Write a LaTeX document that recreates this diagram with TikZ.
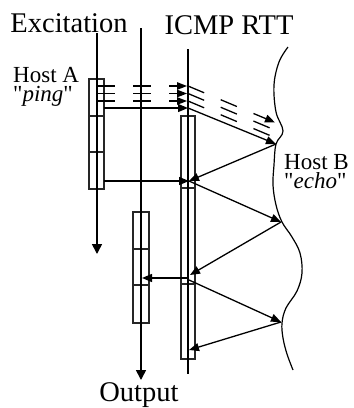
\documentclass[tikz,border=0pt]{standalone}
\usepackage{fontspec}
\setmainfont{Liberation Serif}
\usetikzlibrary{arrows.meta}
\begin{document}
\begin{tikzpicture}[x=1pt,y=-1pt,
  big/.style={font=\fontsize{28.5}{30}\selectfont, inner sep=0pt, anchor=base},
  lab/.style={font=\fontsize{23}{19}\selectfont, inner sep=0pt, anchor=north west, align=left},
  axis/.style={line width=1.6pt},
  axisarrow/.style={axis, -{Triangle[length=10pt,width=10pt]}},
  box/.style={draw=black!85, line width=1.1pt, inner sep=0pt, outer sep=0pt},
  divline/.style={draw=black!85, line width=1.1pt},
  msg/.style={line width=1.3pt, -{Triangle[length=10pt,width=8pt]}},
  probe/.style={line width=1.3pt, dash pattern=on 18pt off 18pt},
  probeout/.style={line width=1.3pt, dash pattern=on 17.5pt off 18pt},
  host/.style={line width=1.2pt}
]
\useasboundingbox (0,0) rectangle (354,408);

% labels
\node[big] (exc) at (69,32) {Excitation};
\node[big] (icmp) at (229,34) {ICMP RTT};
\node[big] (out) at (139,401) {Output};
\node[lab] (hostA) at (13,67.5) {Host A\\\textquotedbl\textit{ping}\textquotedbl};
\node[lab] (hostB) at (284,154.5) {Host B\\\textquotedbl\textit{echo}\textquotedbl};

% boxes
\node[box, minimum width=15pt, minimum height=110pt] (exbox) at (96.5,134) {};
\node[box, minimum width=14pt, minimum height=243pt] (icbox) at (188,237.5) {};
\node[box, minimum width=16pt, minimum height=111pt] (outbox) at (141,267.5) {};
\draw[divline] (89,116) -- (104,116);
\draw[divline] (89,152) -- (104,152);
\draw[divline] (181,188) -- (195,188);
\draw[divline] (181,284) -- (195,284);
\draw[divline] (133,249) -- (149,249);
\draw[divline] (133,285) -- (149,285);

% time lines
\coordinate (exTop) at (97,33);
\coordinate (exEnd) at (97,254);
\coordinate (outTop) at (141,28);
\coordinate (outEnd) at (141,380);
\coordinate (icTop) at (188,49);
\coordinate (icEnd) at (188,374);
\draw[axisarrow] (exTop) -- (exEnd);
\draw[axisarrow] (outTop) -- (outEnd);
\draw[axis] (icTop) -- (icEnd);

% probe train (dashed)
\foreach \y in {86,93.5,101}{
  \draw[probe, -{Triangle[length=10pt,width=7.5pt]}] (97,\y) -- (187,\y);
}
\draw[probeout, -{Triangle[length=10pt,width=8pt]}] (188,86) -- (275,122.5);
\draw[probeout] (188,93.5) -- (270,128);
\draw[probeout] (188,101) -- (270,135.5);

% Host B boundary
\draw[host] plot[smooth, tension=0.6] coordinates {(288,47) (279,62) (274,85) (276,112) (283,131) (276,144) (274,165) (273,185) (276,205) (282,222) (292,237) (300,253) (302,273) (297,291) (286,308) (282,323) (283,338) (287,354) (293,370)};

% message points
\coordinate (s1) at (188,108);
\coordinate (B1) at (276,144);
\coordinate (r1) at (189,181);
\coordinate (B2) at (281,222);
\coordinate (r2) at (190,275);
\coordinate (h3) at (188,278);
\coordinate (o1) at (142,278);
\coordinate (s3) at (189,280);
\coordinate (B3) at (281,322);
\coordinate (r3) at (189,350);

\draw[msg] (exbox.east |- s1) -- (s1);
\draw[msg] (s1) -- (B1);
\draw[msg] (B1) -- (r1);
\draw[msg] (exbox.east |- r1) -- (r1);
\draw[msg] (r1) -- (B2);
\draw[msg] (B2) -- (r2);
\draw[msg] (h3) -- (o1);
\draw[msg] (s3) -- (B3);
\draw[msg] (B3) -- (r3);
\end{tikzpicture}
\end{document}
